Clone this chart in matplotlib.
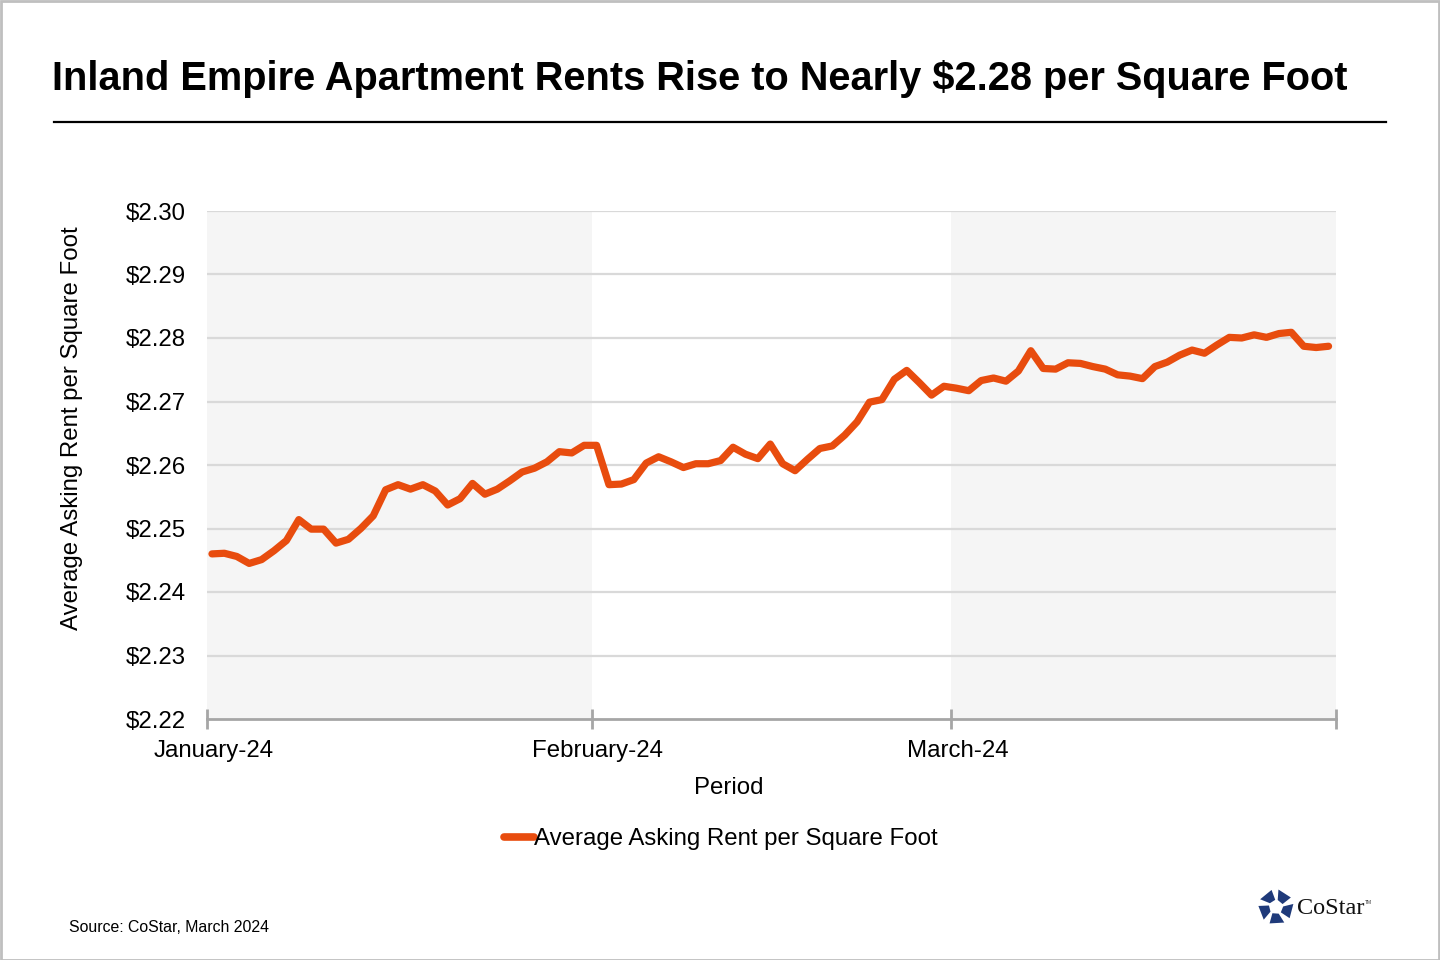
import numpy as np
import matplotlib
matplotlib.use("Agg")
import matplotlib.pyplot as plt
from matplotlib.patches import Polygon, Rectangle
from matplotlib.lines import Line2D

plt.rcParams['font.family'] = ['Liberation Sans', 'DejaVu Sans']

# daily average asking rent, Jan 1 - Mar 31 2024
days = np.arange(91)
rent = [
    2.2460, 2.2461, 2.2456, 2.2445, 2.2451, 2.2465, 2.2481, 2.2514, 2.2499, 2.2499,
    2.2477, 2.2483, 2.2500, 2.2520, 2.2561, 2.2569, 2.2562, 2.2569, 2.2559, 2.2537,
    2.2547, 2.2571, 2.2554, 2.2562, 2.2575, 2.2589, 2.2595, 2.2605, 2.2621, 2.2619,
    2.2631, 2.2631, 2.2569, 2.2570, 2.2577, 2.2603, 2.2613, 2.2605, 2.2596, 2.2602,
    2.2602, 2.2607, 2.2628, 2.2617, 2.2610, 2.2633, 2.2602, 2.2591, 2.2609, 2.2626,
    2.2630, 2.2647, 2.2668, 2.2699, 2.2703, 2.2735, 2.2749, 2.2730, 2.2710, 2.2724,
    2.2721, 2.2717, 2.2733, 2.2737, 2.2732, 2.2748, 2.2780, 2.2752, 2.2751, 2.2761,
    2.2760, 2.2755, 2.2751, 2.2742, 2.2740, 2.2736, 2.2755, 2.2762, 2.2773, 2.2781,
    2.2776, 2.2789, 2.2801, 2.2800, 2.2805, 2.2801, 2.2807, 2.2809, 2.2787, 2.2785,
    2.2787,
]
month_starts = [0, 31, 60, 91]
month_labels = ["January-24", "February-24", "March-24"]
y_ticks = [2.22, 2.23, 2.24, 2.25, 2.26, 2.27, 2.28, 2.29, 2.30]

W, H = 1440, 960
LINE_COLOR = '#E84C0E'
AXIS_GRAY = '#A6A6A6'

fig = plt.figure(figsize=(W / 100, H / 100), dpi=100)
ax = fig.add_axes([207 / W, 1 - 719 / H, (1336 - 207) / W, (719 - 211) / H])

# shaded months
ax.axvspan(month_starts[0], month_starts[1], color='#F5F5F5', lw=0, zorder=0)
ax.axvspan(month_starts[2], month_starts[3], color='#F5F5F5', lw=0, zorder=0)

for yv in y_ticks[1:]:
    ax.axhline(yv, color='#D9D9D9', lw=1.6, zorder=1)

ax.plot(days + 0.4, rent, color=LINE_COLOR, lw=5.2, solid_joinstyle='round',
        solid_capstyle='round', zorder=3, label="Average Asking Rent per Square Foot")

ax.set_xlim(0, 91)
ax.set_ylim(2.22, 2.30)
for s in ['top', 'right', 'left']:
    ax.spines[s].set_visible(False)
ax.spines['bottom'].set_color(AXIS_GRAY)
ax.spines['bottom'].set_linewidth(2)
ax.spines['bottom'].set_zorder(2)

ax.set_xticks(month_starts)
ax.set_xticklabels([])
ax.tick_params(axis='x', which='major', direction='inout', length=14, width=2,
               color=AXIS_GRAY)
ax.set_xticks([m + 0.5 for m in month_starts[:3]], minor=True)
ax.set_xticklabels(month_labels, minor=True)
ax.tick_params(axis='x', which='minor', length=0, pad=15, labelsize=17.3)

ax.set_yticks(y_ticks)
ax.set_yticklabels(["${:.2f}".format(v) for v in y_ticks])
ax.tick_params(axis='y', length=0, pad=15, labelsize=17.3)

fig.text(729 / W, 1 - 788 / H, "Period", ha='center', va='center', fontsize=17.3)
fig.text(72 / W, 1 - 428 / H, "Average Asking Rent per Square Foot", rotation=90,
         ha='center', va='center', fontsize=17.3)

leg = ax.legend(loc='center', bbox_to_anchor=(721 / W, 1 - 839 / H),
                bbox_transform=fig.transFigure, frameon=False, fontsize=17.3,
                handlelength=1.25, handletextpad=0.0, borderpad=0)
for h in leg.get_lines():
    h.set_linewidth(5.5)

# title and rule
fig.text(52 / W, 1 - 79 / H, "Inland Empire Apartment Rents Rise to Nearly $2.28 per Square Foot",
         ha='left', va='center', fontsize=28.6, fontweight='bold')
fig.add_artist(Line2D([54 / W, 1386 / W], [1 - 122 / H, 1 - 122 / H], color='black',
                      lw=1.6, transform=fig.transFigure))

fig.text(69 / W, 1 - 928 / H, "Source: CoStar, March 2024", ha='left', va='center',
         fontsize=11.4)

# CoStar logo
lax = fig.add_axes([1258 / W, 1 - 925 / H, 36 / W, 36 / H])
lax.set_xlim(-1, 1)
lax.set_ylim(-1, 1)
lax.axis('off')
for k in range(5):
    a0 = np.deg2rad(90 + 72 * k + 6)
    a1 = np.deg2rad(90 + 72 * k + 64)
    pts = [(0.4 * np.cos(a0), 0.4 * np.sin(a0)), (0.98 * np.cos(a0 + 0.15), 0.98 * np.sin(a0 + 0.15)),
           (0.98 * np.cos(a1), 0.98 * np.sin(a1)), (0.4 * np.cos(a1 - 0.1), 0.4 * np.sin(a1 - 0.1))]
    lax.add_patch(Polygon(pts, closed=True, color='#1F3A7A', lw=0))
fig.text(1297 / W, 1 - 909 / H, "CoStar", ha='left', va='center', fontsize=17.5,
         family=['Liberation Serif', 'DejaVu Serif'], color='#111111')
fig.text(1365 / W, 1 - 902 / H, "TM", ha='left', va='center', fontsize=3.5, color='#333333')

fig.add_artist(Rectangle((0.5 / W, 0.5 / H), 1 - 1.5 / W, 1 - 1.5 / H, fill=False,
                         edgecolor='#BFBFBF', lw=2, transform=fig.transFigure))

fig.savefig("out.png", dpi=100)
